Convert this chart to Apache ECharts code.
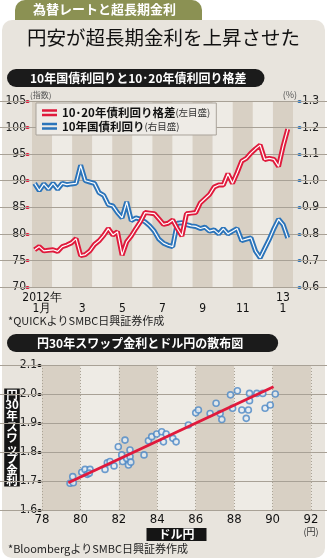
<!DOCTYPE html>
<html><head><meta charset="utf-8">
<script src="https://cdn.jsdelivr.net/npm/echarts@6/dist/echarts.min.js"></script>
<style>html,body{margin:0;padding:0;background:#fff}#c{width:327px;height:560px}</style>
</head><body><div id="c"></div>
<script>
// ---------- DATA ----------
const months = ['1','2','3','4','5','6','7','8','9','10','11','12','1'];
const monthLabels = ['2012年\n1月','','\n3','','\n5','','\n7','','\n9','','\n11','','13\n1'];
const weeks = ['2012-01-05','2012-01-12','2012-01-19','2012-01-26','2012-02-02','2012-02-09','2012-02-16','2012-02-23',
'2012-03-01','2012-03-08','2012-03-15','2012-03-22','2012-03-29','2012-04-05','2012-04-12','2012-04-19','2012-04-26',
'2012-05-03','2012-05-10','2012-05-17','2012-05-24','2012-05-31','2012-06-07','2012-06-14','2012-06-21','2012-06-28',
'2012-07-05','2012-07-12','2012-07-19','2012-07-26','2012-08-02','2012-08-09','2012-08-16','2012-08-23','2012-08-30',
'2012-09-06','2012-09-13','2012-09-20','2012-09-27','2012-10-04','2012-10-11','2012-10-18','2012-10-25',
'2012-11-01','2012-11-08','2012-11-15','2012-11-22','2012-11-29','2012-12-06','2012-12-13','2012-12-20','2012-12-27',
'2013-01-03','2013-01-10','2013-01-17','2013-01-24'];
// 10-20yr yield spread (index, left axis)
const spread = [77.0,77.6,76.8,76.9,77.0,76.7,77.6,77.9,78.3,79.1,
75.9,76.1,76.8,78.0,78.7,79.7,81.0,79.8,80.4,76.0,
78.5,79.6,81.0,82.3,84.0,83.9,83.8,82.8,81.8,82.0,
82.6,81.0,79.6,83.8,83.9,84.0,85.8,86.6,87.4,88.8,
89.2,89.2,91.3,89.5,91.5,93.7,94.2,95.2,96.0,96.7,
94.0,94.2,94.0,92.7,96.5,99.7];
// 10yr JGB yield (%, right axis)
const jgb10 = [0.990,0.963,0.988,0.968,0.990,0.968,0.990,0.985,0.988,0.990,
1.058,1.000,0.995,0.990,0.955,0.945,0.910,0.905,0.880,0.860,
0.920,0.850,0.860,0.855,0.845,0.830,0.810,0.780,0.765,0.757,
0.752,0.840,0.842,0.835,0.830,0.828,0.820,0.825,0.810,0.815,
0.800,0.820,0.800,0.810,0.820,0.775,0.780,0.785,0.735,0.710,
0.745,0.780,0.820,0.855,0.835,0.785];
const legendNames = ['10･20年債利回り格差','10年国債利回り'];
const legendNotes = ['(左目盛)','(右目盛)'];
// scatter: USD/JPY vs JPY 30yr swap rate
const usdjpy = [79.46,79.60,79.63,80.07,80.24,80.36,80.50,80.46,81.28,81.40,
81.54,81.75,81.97,82.15,82.20,82.32,82.41,82.50,82.58,82.58,
82.62,83.31,83.54,83.71,83.97,84.23,84.32,84.46,84.81,84.98,
85.62,86.00,86.14,86.75,87.06,87.27,87.36,87.81,87.92,88.17,
88.40,88.63,88.74,88.80,88.80,89.18,89.49,89.61,89.88,90.14];
const swap30 = [1.692,1.715,1.694,1.730,1.740,1.723,1.740,1.727,1.740,1.763,
1.767,1.752,1.818,1.790,1.767,1.841,1.778,1.755,1.807,1.784,
1.765,1.790,1.839,1.853,1.862,1.870,1.835,1.862,1.847,1.835,
1.893,1.935,1.945,1.933,1.968,1.933,1.912,1.997,1.951,2.011,
1.945,1.916,1.945,2.002,1.977,2.002,2.002,1.951,1.962,2.000];
const fitX = [79.37, 90.05];
const fitY = [1.694, 2.025];

// ---------- STYLE ----------
const NARROW = "'Liberation Sans Narrow','DejaVu Sans Condensed','Liberation Sans',sans-serif";
const JP = "'Noto Sans CJK JP','Noto Sans',sans-serif";
const RED = '#e01a3c', BLUE = '#2b74ba';
const DARK = '#d8d0c4', LIGHT = '#eeebe5', PANEL = '#e8e4dd', GRIDC = '#a8a196';
const TOP = 101, TOPH = 186, SC_TOP = 365, SC_H = 145;

const chart = echarts.init(document.getElementById('c'));
const option = {
  animation:false,
  backgroundColor:'#fff',
  graphic:[
    {type:'rect', z:-10, shape:{x:15,y:0,width:187,height:26,r:[10,10,0,0]}, style:{fill:'#8b9153'}},
    {type:'rect', z:-9, shape:{x:2,y:20,width:323,height:538,r:10}, style:{fill:PANEL}}
  ],
  title:[
    {text:'為替レートと超長期金利', left:33, top:3, padding:0, textStyle:{color:'#fff',fontSize:13,fontWeight:'bold',fontFamily:JP}},
    {text:'円安が超長期金利を上昇させた', left:27, top:28, padding:0, textStyle:{color:'#111',fontSize:19.5,fontWeight:'normal',fontFamily:JP}},
    {text:'10年国債利回りと10･20年債利回り格差', left:7, top:69, backgroundColor:'#1b1b1b', borderRadius:10, padding:[3,18,3,23],
      textStyle:{color:'#fff',fontSize:12,fontWeight:'bold',fontFamily:JP}},
    {text:'*QUICKよりSMBC日興証券作成', left:8, top:315, padding:0, textStyle:{color:'#222',fontSize:11,fontWeight:'normal',fontFamily:JP}},
    {text:'円30年スワップ金利とドル円の散布図', left:7, top:334, backgroundColor:'#1b1b1b', borderRadius:10, padding:[3,35,3,30],
      textStyle:{color:'#fff',fontSize:12,fontWeight:'bold',fontFamily:JP}},
    {text:'*BloombergよりSMBC日興証券作成', left:8, top:543, padding:0, textStyle:{color:'#222',fontSize:11,fontWeight:'normal',fontFamily:JP}}
  ],
  legend:{
    left:36, top:103, orient:'vertical', data:legendNames, itemWidth:15, itemHeight:7, itemGap:2,
    padding:[4,6,3,6], backgroundColor:'#eeebe6', borderColor:'#a9a39a', borderWidth:1,
    icon:'path://M0,0H15V2.5H0Z M0,4.5H15V7H0Z',
    formatter: n => '{a|' + n + '}{b|' + legendNotes[legendNames.indexOf(n)] + '}',
    textStyle:{rich:{a:{fontSize:11.5,fontWeight:'bold',color:'#111',fontFamily:JP},b:{fontSize:9.5,color:'#333',fontFamily:JP}}}
  },
  grid:[
    {left:0,right:0,top:TOP,height:TOPH},
    {left:32,right:34,top:TOP,height:TOPH},
    {left:42,right:16,top:SC_TOP,height:SC_H},
    {left:0,right:0,top:SC_TOP,height:SC_H}
  ],
  xAxis:[
    {gridIndex:0, type:'value', min:0, max:1, show:false},
    {gridIndex:1, type:'category', data:months, boundaryGap:true, z:0,
      axisLine:{show:false}, axisTick:{show:false},
      splitArea:{show:true, interval:0, areaStyle:{color:[DARK,LIGHT]}},
      axisLabel:{interval:0, margin:5, formatter:(v,i)=>monthLabels[i], fontFamily:NARROW, fontSize:12, lineHeight:11, color:'#111'}},
    {gridIndex:1, type:'time', min:'2012-01-01', max:'2013-02-01', show:false},
    {gridIndex:2, type:'value', min:78, max:92, interval:2, z:0,
      axisLine:{show:false}, axisTick:{show:false},
      splitArea:{show:true, areaStyle:{color:[DARK,LIGHT]}},
      splitLine:{show:true, lineStyle:{color:'#aaa396', type:[1,2], width:1}},
      axisLabel:{margin:4, fontFamily:NARROW, fontSize:13, color:'#111', lineHeight:12,
        formatter:v => v===92 ? '92\n{s|(円)}' : String(v), rich:{s:{fontSize:9,color:'#333',fontFamily:JP}}},
      name:'ドル円', nameLocation:'middle', nameGap:18, nameMoveOverlap:false,
      nameTextStyle:{color:'#fff', backgroundColor:'#151515', fontWeight:'bold', fontSize:12, fontFamily:JP, padding:[0,12,0,12], lineHeight:13, verticalAlign:'top'}},
    {gridIndex:3, type:'value', min:0, max:1, show:false}
  ],
  yAxis:[
    {gridIndex:0, type:'value', min:70, max:105, interval:5, z:1, axisLabel:{show:false}, axisLine:{show:false}, axisTick:{show:false},
      splitLine:{show:true, lineStyle:{color:GRIDC, width:1}}},
    {gridIndex:1, type:'value', min:70, max:105, interval:5, position:'left', offset:4,
      axisLine:{show:false}, splitLine:{show:false},
      axisTick:{show:true, length:1, lineStyle:{color:RED, width:3, cap:'round'}},
      axisLabel:{margin:2, fontFamily:NARROW, fontSize:12, color:'#222', verticalAlign:'middle', padding:[0,0,10,0]},
      name:'(指数)', nameLocation:'end', nameGap:2, nameMoveOverlap:false,
      nameTextStyle:{align:'left', verticalAlign:'bottom', fontSize:8, color:'#555', fontFamily:JP, padding:[0,0,0,2]}},
    {gridIndex:1, type:'value', min:0.6, max:1.3, interval:0.1, position:'right', offset:6,
      axisLine:{show:false}, splitLine:{show:false},
      axisTick:{show:true, length:1, lineStyle:{color:BLUE, width:3, cap:'round'}},
      axisLabel:{margin:3, fontFamily:NARROW, fontSize:12, color:'#222', formatter:v=>v.toFixed(1), verticalAlign:'middle', padding:[0,0,10,0]},
      name:'(%)', nameLocation:'end', nameGap:2, nameMoveOverlap:false,
      nameTextStyle:{align:'right', verticalAlign:'bottom', fontSize:9, color:'#555', fontFamily:JP, padding:[0,2,0,0]}},
    {gridIndex:2, type:'value', min:1.6, max:2.1, interval:0.1, offset:2,
      axisLine:{show:false}, splitLine:{show:false},
      axisTick:{show:true, length:1, lineStyle:{color:'#111', width:3, cap:'round'}},
      axisLabel:{margin:3, fontFamily:NARROW, fontSize:12, color:'#222', formatter:v=>v.toFixed(1), verticalAlign:'middle', padding:[0,0,10,0]},
      name:'円\n30\n年\nス\nワ\nッ\nプ\n金\n利', nameLocation:'middle', nameGap:28, nameRotate:0, nameMoveOverlap:false,
      nameTextStyle:{color:'#fff', backgroundColor:'#151515', fontWeight:'bold', fontSize:11.5, lineHeight:10.8, fontFamily:JP, padding:[1,1,0,1], align:'center', verticalAlign:'middle'}},
    {gridIndex:3, type:'value', min:1.6, max:2.1, interval:0.1, z:1, axisLabel:{show:false}, axisLine:{show:false}, axisTick:{show:false},
      splitLine:{show:true, lineStyle:{color:GRIDC, width:1}}}
  ],
  series:[
    {name:legendNames[1], type:'line', xAxisIndex:2, yAxisIndex:2, z:3, symbol:'none',
      data:weeks.map((d,i)=>[d,jgb10[i]]), lineStyle:{color:BLUE,width:5}, itemStyle:{color:BLUE}},
    {name:'_b', type:'line', xAxisIndex:2, yAxisIndex:2, z:4, symbol:'none',
      data:weeks.map((d,i)=>[d,jgb10[i]]), lineStyle:{color:'#fff',width:1.2}},
    {name:legendNames[0], type:'line', xAxisIndex:2, yAxisIndex:1, z:5, symbol:'none',
      data:weeks.map((d,i)=>[d,spread[i]]), lineStyle:{color:RED,width:5}, itemStyle:{color:RED}},
    {name:'_r', type:'line', xAxisIndex:2, yAxisIndex:1, z:6, symbol:'none',
      data:weeks.map((d,i)=>[d,spread[i]]), lineStyle:{color:'#fff',width:1.2}},
    {name:'scatter', type:'scatter', xAxisIndex:3, yAxisIndex:3, z:3, symbol:'circle', symbolSize:6,
      data:usdjpy.map((x,i)=>[x,swap30[i]]), itemStyle:{color:'#e6edf4', borderColor:'#4b87c5', borderWidth:1.6}},
    {name:'fit', type:'line', xAxisIndex:3, yAxisIndex:3, z:5, symbol:'none',
      data:fitX.map((x,i)=>[x,fitY[i]]), lineStyle:{color:'#e01a3c', width:3}}
  ]
};
chart.setOption(option);
</script></body></html>
